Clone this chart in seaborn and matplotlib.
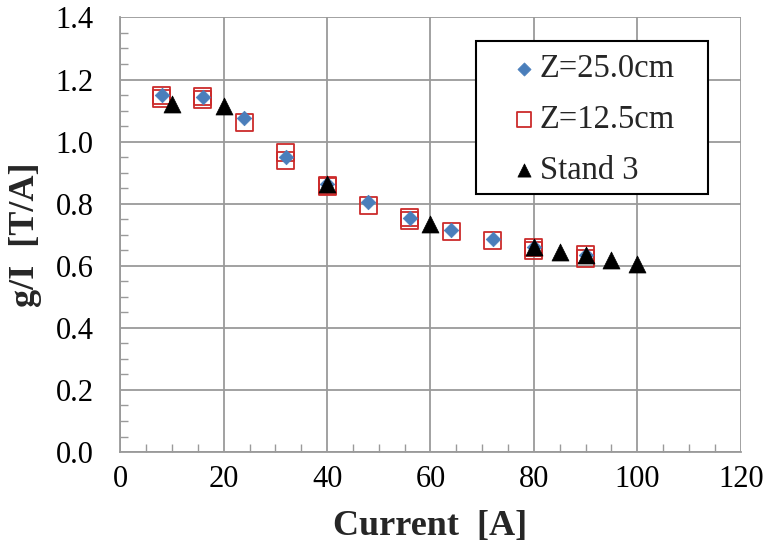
import numpy as np
import pandas as pd
import seaborn as sns
import matplotlib
matplotlib.use("Agg")
import matplotlib.pyplot as plt
from matplotlib.patches import Rectangle
from matplotlib.ticker import MultipleLocator, FormatStrFormatter

# Measured g/I versus coil current
current_z25 = [8, 16, 24, 32, 40, 48, 56, 64, 72, 80, 90]
gi_z25 = [1.150, 1.145, 1.075, 0.950, 0.865, 0.805, 0.755, 0.715, 0.685, 0.660, 0.635]

current_z12 = [8, 8, 16, 16, 24, 32, 32, 40, 40, 48, 56, 56, 64, 72, 80, 80, 90, 90]
gi_z12 = [1.150, 1.140, 1.145, 1.135, 1.060, 0.965, 0.940, 0.860, 0.855, 0.795,
          0.755, 0.745, 0.710, 0.680, 0.660, 0.650, 0.635, 0.625]

current_stand3 = [10, 20, 40, 60, 80, 85, 90, 95, 100]
gi_stand3 = [1.120, 1.115, 0.865, 0.735, 0.660, 0.645, 0.635, 0.620, 0.605]

labels = ["Z=25.0cm", "Z=12.5cm", "Stand 3"]

sns.set_theme(style="white")
plt.rcParams["font.family"] = ["Liberation Serif", "DejaVu Serif"]

fig = plt.figure(figsize=(7.66, 5.44), dpi=100)
ax = fig.add_axes([0.157, 0.169, 0.810, 0.799])

grid_col = "#9a9a9a"

df12 = pd.DataFrame({"current": current_z12, "gi": gi_z12})
df25 = pd.DataFrame({"current": current_z25, "gi": gi_z25})
dfs3 = pd.DataFrame({"current": current_stand3, "gi": gi_stand3})

sns.scatterplot(data=df12, x="current", y="gi", ax=ax, marker="s", s=150,
                facecolor="none", edgecolor="#cc2b2b", linewidth=1.3,
                label=labels[1], zorder=3)
sns.scatterplot(data=df25, x="current", y="gi", ax=ax, marker="D", s=55,
                color="#4a7ebb", edgecolor="#4a7ebb", linewidth=0.5,
                label=labels[0], zorder=4)
sns.scatterplot(data=dfs3, x="current", y="gi", ax=ax, marker="^", s=150,
                color="black", edgecolor="black", linewidth=0.5,
                label=labels[2], zorder=5)

ax.set_xlim(0, 120)
ax.set_ylim(0, 1.4)
ax.xaxis.set_major_locator(MultipleLocator(20))
ax.xaxis.set_minor_locator(MultipleLocator(5))
ax.yaxis.set_major_locator(MultipleLocator(0.2))
ax.yaxis.set_minor_locator(MultipleLocator(0.05))
ax.yaxis.set_major_formatter(FormatStrFormatter("%.1f"))

ax.grid(True, which="major", color=grid_col, linewidth=1.3)
ax.set_axisbelow(True)
for side in ["top", "right"]:
    ax.spines[side].set_visible(False)
for side in ["left", "bottom"]:
    ax.spines[side].set_color(grid_col)
    ax.spines[side].set_linewidth(1.3)

ax.tick_params(which="major", direction="out", length=7, width=1.3,
               color=grid_col, labelsize=22, labelcolor="black")
ax.tick_params(axis="x", which="major", pad=2)
ax.tick_params(axis="y", which="major", pad=12)
ax.tick_params(which="minor", direction="in", length=6, width=1.0,
               color=grid_col, bottom=True, left=True)

ax.set_xlabel("Current  [A]", fontsize=26, fontweight="bold", labelpad=12)
ax.set_ylabel("g/I  [T/A]", fontsize=26, fontweight="bold", labelpad=10)

# Legend box
ax.add_patch(Rectangle((0.574, 0.594), 0.374, 0.352, transform=ax.transAxes,
                       facecolor="white", edgecolor="black", linewidth=1.5,
                       zorder=6, clip_on=False))

handles, lbls = ax.get_legend_handles_labels()
order = [lbls.index(l) for l in labels]
leg = ax.legend([handles[i] for i in order], [lbls[i] for i in order],
                loc="upper left", bbox_to_anchor=(0.631, 0.916),
                fontsize=23.5, frameon=False, borderpad=0, labelspacing=0.62,
                handletextpad=0.1, handlelength=0.75, borderaxespad=0)
leg.set_zorder(7)
for h, sz in zip(leg.legend_handles, [45, 110, 90]):
    h.set_sizes([sz])

fig.savefig("out.png", dpi=100)
